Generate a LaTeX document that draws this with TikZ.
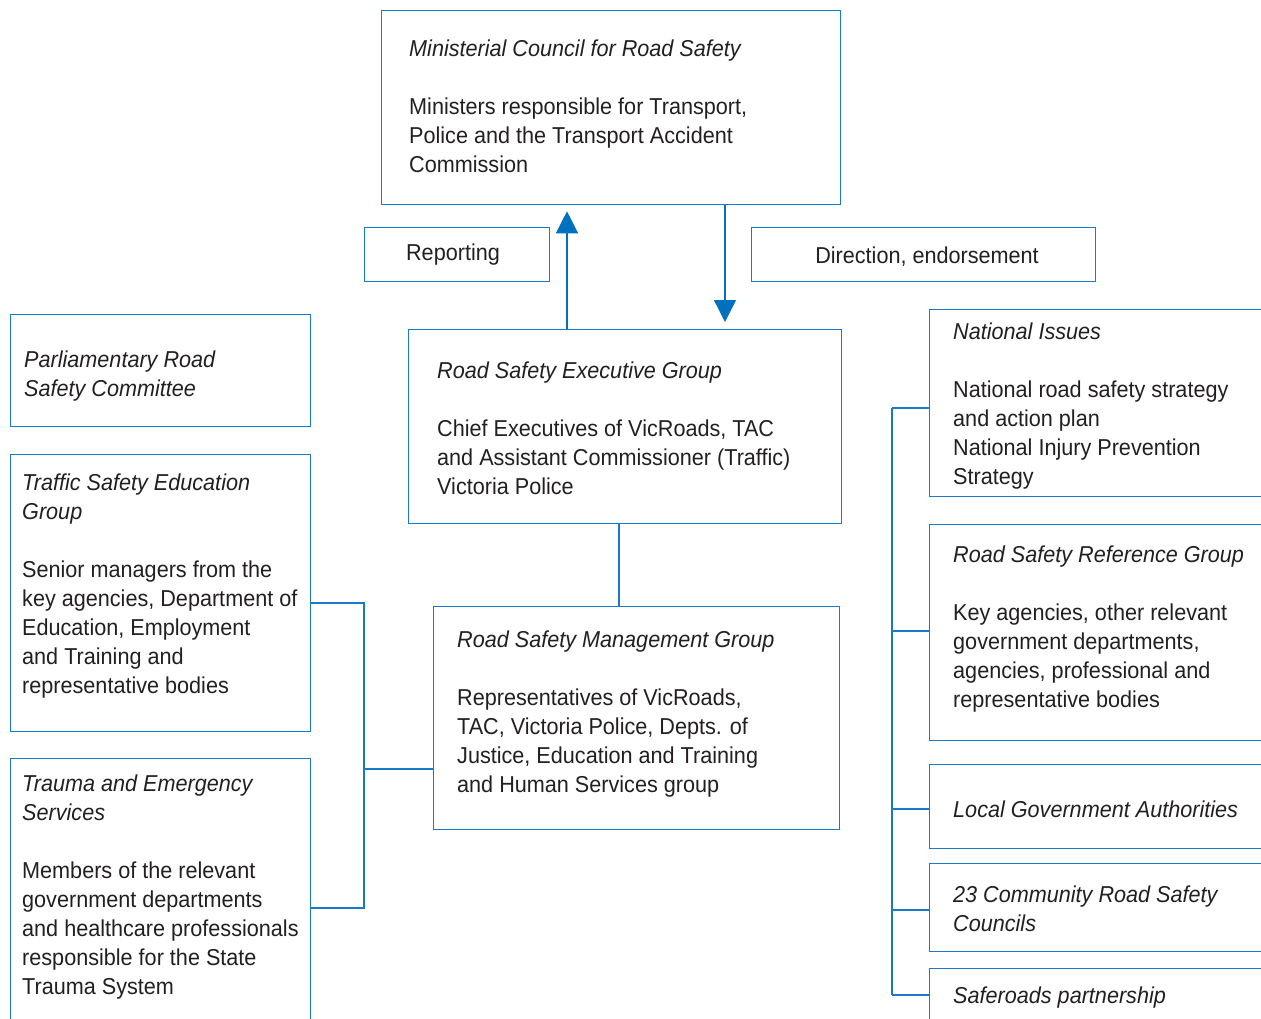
\documentclass[tikz,border=0pt]{standalone}
\usepackage{fontspec}
\setmainfont{Liberation Sans}[FakeStretch=0.94]
\usetikzlibrary{arrows.meta,calc}
\definecolor{lineblue}{RGB}{25,122,202}
\definecolor{arrblue}{RGB}{0,112,192}
\definecolor{txtgray}{RGB}{35,31,32}
\newcommand\tlines[1]{\begin{tabular}[t]{@{}l@{}}#1\end{tabular}}
\tikzset{
  box/.style={draw=lineblue, line width=1.3pt, rectangle, inner sep=0pt, anchor=north west},
  conn/.style={draw=lineblue, line width=1.3pt},
  arr/.style={draw=arrblue, line width=1.3pt, -{Triangle[width=22pt,length=22pt,fill=arrblue]}},
  txt/.style={inner sep=0pt, anchor=base west, text=txtgray, font=\fontsize{23}{29}\selectfont},
  ctxt/.style={inner sep=0pt, anchor=base, text=txtgray, font=\fontsize{23}{29}\selectfont}
}
\begin{document}
\begin{tikzpicture}[x=1pt,y=-1pt]
\useasboundingbox (0,0) rectangle (1261,1019);
\clip (0,0) rectangle (1261,1019);
% boxes
\node[box, minimum width=459pt, minimum height=194pt] (min) at (381,10) {};
\node[box, minimum width=185pt, minimum height=54pt] (rep) at (364,227) {};
\node[box, minimum width=344pt, minimum height=54pt] (dir) at (751,227) {};
\node[box, minimum width=433pt, minimum height=194pt] (exec) at (408,329) {};
\node[box, minimum width=406pt, minimum height=223pt] (mgmt) at (433,606) {};
\node[box, minimum width=300pt, minimum height=112pt] (parl) at (10,314) {};
\node[box, minimum width=300pt, minimum height=277pt] (traf) at (10,454) {};
\node[box, minimum width=300pt, minimum height=290pt] (trau) at (10,758) {};
\node[box, minimum width=360pt, minimum height=187pt] (natl) at (929,309) {};
\node[box, minimum width=360pt, minimum height=216pt] (rsrg) at (929,524) {};
\node[box, minimum width=360pt, minimum height=84pt] (loc) at (929,764) {};
\node[box, minimum width=360pt, minimum height=88pt] (comm) at (929,863) {};
\node[box, minimum width=360pt, minimum height=90pt] (safe) at (929,968) {};
% texts
\node[txt] (tmin) at (409,57) {\tlines{\textit{Ministerial Council for Road Safety}\\ \\ Ministers responsible for Transport,\\ Police and the Transport Accident\\ Commission}};
\node[ctxt] (trep) at (453,261) {Reporting};
\node[ctxt] (tdir) at (927,263) {Direction, endorsement};
\node[txt] (texec) at (437,378) {\tlines{\textit{Road Safety Executive Group}\\ \\ Chief Executives of VicRoads, TAC\\ and Assistant Commissioner (Traffic)\\ Victoria Police}};
\node[txt] (tmgmt) at (457,647) {\tlines{\textit{Road Safety Management Group}\\ \\ Representatives of VicRoads,\\ TAC, Victoria Police, Depts. of\\ Justice, Education and Training\\ and Human Services group}};
\node[txt] (tparl) at (24,367) {\tlines{\textit{Parliamentary Road}\\ \textit{Safety Committee}}};
\node[txt] (ttraf) at (22,490) {\tlines{\textit{Traffic Safety Education}\\ \textit{Group}\\ \\ Senior managers from the\\ key agencies, Department of\\ Education, Employment\\ and Training and\\ representative bodies}};
\node[txt] (ttrau) at (22,791) {\tlines{\textit{Trauma and Emergency}\\ \textit{Services}\\ \\ Members of the relevant\\ government departments\\ and healthcare professionals\\ responsible for the State\\ Trauma System}};
\node[txt] (tnatl) at (953,339) {\tlines{\textit{National Issues}\\ \\ National road safety strategy\\ and action plan\\ National Injury Prevention\\ Strategy}};
\node[txt] (trsrg) at (953,562) {\tlines{\textit{Road Safety Reference Group}\\ \\ Key agencies, other relevant\\ government departments,\\ agencies, professional and\\ representative bodies}};
\node[txt] (tloc) at (953,817) {\textit{Local Government Authorities}};
\node[txt] (tcomm) at (953,902) {\tlines{\textit{23 Community Road Safety}\\ \textit{Councils}}};
\node[txt] (tsafe) at (953,1003) {\textit{Saferoads partnership}};
% helper coordinates
\coordinate (upx) at (567,0);
\coordinate (dnx) at (725,0);
\coordinate (mx) at (619,0);
\coordinate (jl1) at (364,603);
\coordinate (jl2) at (364,908);
\coordinate (jl3) at (364,769);
\coordinate (jr1) at (892,408);
\coordinate (jr2) at (892,631);
\coordinate (jr3) at (892,809);
\coordinate (jr4) at (892,910);
\coordinate (jr5) at (892,995);
% connectors
\draw[arr, shorten >=6pt] (exec.north -| upx) -- (min.south -| upx);
\draw[arr, shorten >=7pt] (min.south -| dnx) -- (exec.north -| dnx);
\draw[conn] (exec.south -| mx) -- (mgmt.north -| mx);
\draw[conn] (traf.east |- jl1) -- (jl1) -- (jl2) -- (trau.east |- jl2);
\draw[conn] (jl3) -- (mgmt.west |- jl3);
\draw[conn] (jr1) -- (jr5);
\draw[conn] (jr1) -- (natl.west |- jr1);
\draw[conn] (jr2) -- (rsrg.west |- jr2);
\draw[conn] (jr3) -- (loc.west |- jr3);
\draw[conn] (jr4) -- (comm.west |- jr4);
\draw[conn] (jr5) -- (safe.west |- jr5);
\end{tikzpicture}
\end{document}
